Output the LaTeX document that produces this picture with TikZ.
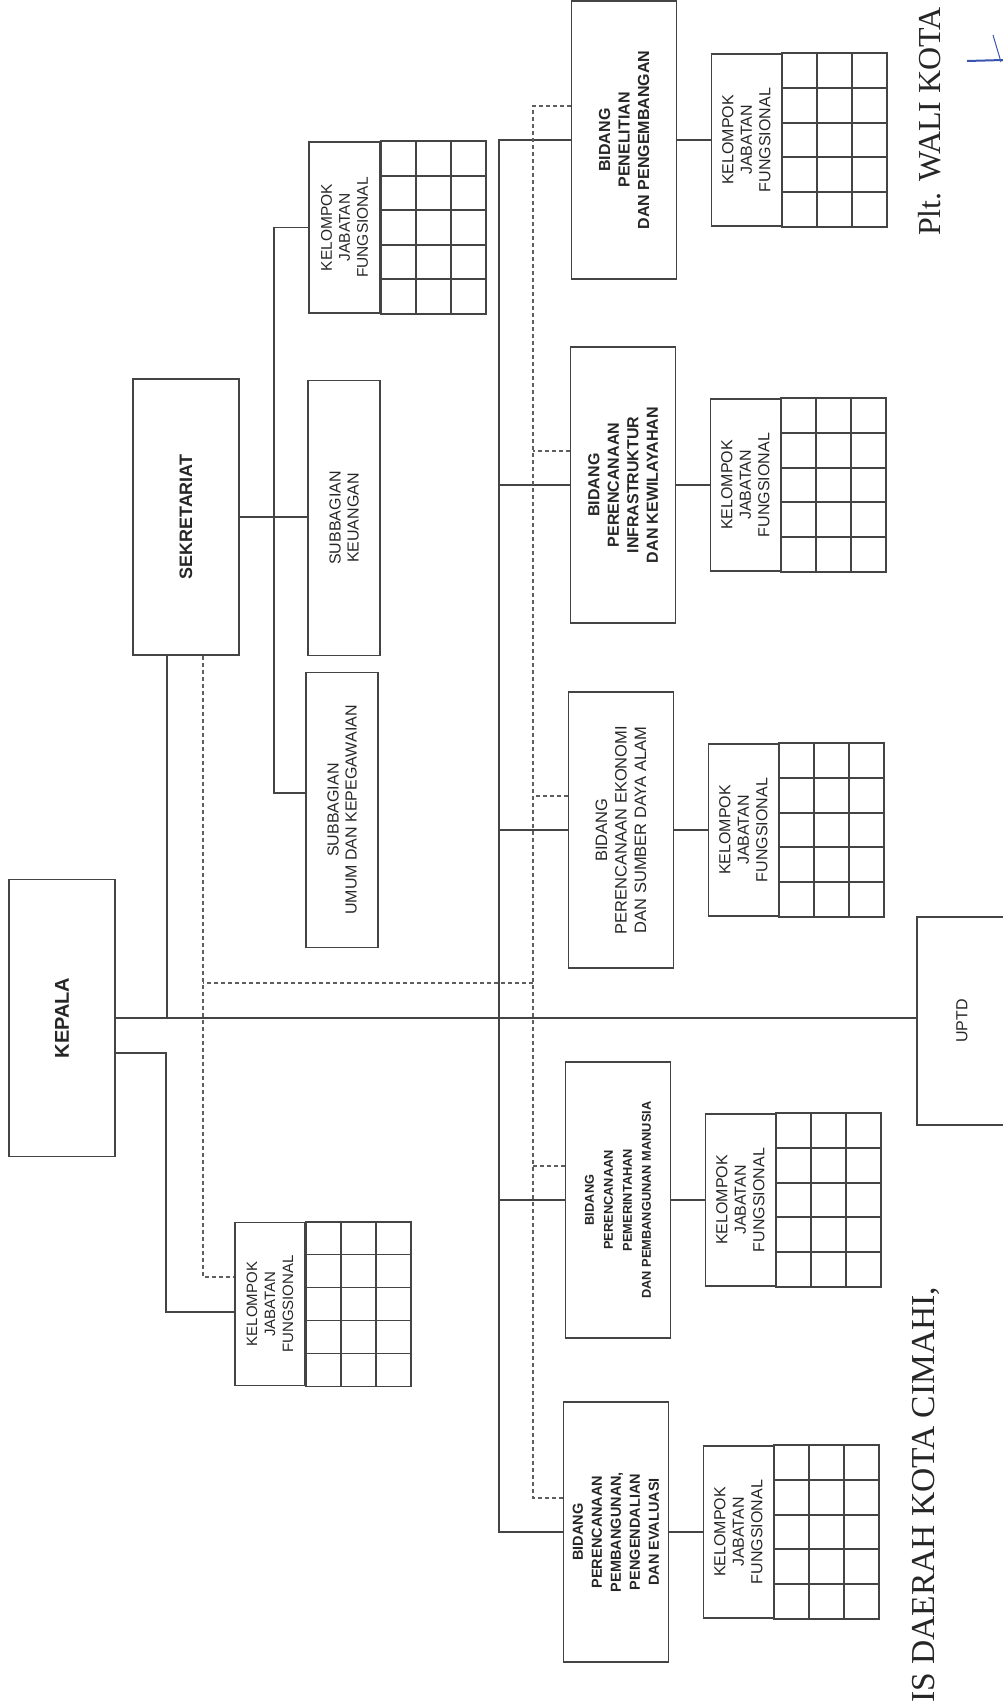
\documentclass[tikz,border=0pt]{standalone}
\usepackage{fontspec}
\setmainfont{Liberation Sans}
\newfontfamily\sigfont{Liberation Serif}
\usetikzlibrary{calc}

\definecolor{ink}{HTML}{444444}
\definecolor{dashgray}{HTML}{5E5E5E}
\definecolor{pen}{HTML}{3A55B0}

\newcommand{\fs}[2]{\fontsize{#1}{#2}\selectfont}

\tikzset{
  unit/.style={draw=ink, line width=1.8pt, rectangle, rotate=90, inner sep=0pt, align=center, text=black!85},
  conn/.style={draw=ink, line width=1.4pt},
  dashl/.style={draw=dashgray, line width=1.4pt, dash pattern=on 4pt off 3pt},
  cell/.style={draw=ink, line width=1.8pt},
}

% grid of the kelompok jabatan fungsional, right of its text part
\newcommand{\jfgrid}[1]{%
  \draw[cell] (#1.south east) rectangle ($(#1.south west)+(105,0)$);
  \foreach \i in {1,2}
    \draw[cell] ($(#1.south east)+(\i*35,0)$) -- ($(#1.south west)+(\i*35,0)$);
  \foreach \j in {1,...,4}
    \draw[cell] ($(#1.south east)!\j/5!(#1.south west)$) -- ++(105,0);
}

\begin{document}
\begin{tikzpicture}[x=1pt, y=-1pt]
  \useasboundingbox (0,0) rectangle (1003,1708);
  \clip (0,0) rectangle (1003,1708);

  % Pimpinan
  \node[unit, minimum width=277pt, minimum height=106pt, font=\bfseries\fs{20}{24}] (kepala) at (62,1018) {KEPALA};
  \node[unit, minimum width=208pt, minimum height=90pt, font=\fs{16}{19}] (uptd) at (962,1021) {UPTD};
  \node[unit, minimum width=163pt, minimum height=70pt, font=\fs{15}{18}] (kfKep) at (270,1304) {KELOMPOK\\JABATAN\\FUNGSIONAL};
  \jfgrid{kfKep}

  % Sekretariat
  \node[unit, minimum width=276pt, minimum height=106pt, font=\bfseries\fs{18}{22}] (sek) at (186,517) {SEKRETARIAT};
  \node[unit, minimum width=275pt, minimum height=72pt, font=\fs{16}{18}] (subK) at (344,518) {SUBBAGIAN\\KEUANGAN};
  \node[unit, minimum width=275pt, minimum height=72pt, font=\fs{16}{18}] (subU) at (342,810) {SUBBAGIAN\\UMUM DAN KEPEGAWAIAN};
  \node[unit, minimum width=171pt, minimum height=71pt, font=\fs{15.5}{18}] (kfSek) at (344.5,227.5) {KELOMPOK\\JABATAN\\FUNGSIONAL};
  \jfgrid{kfSek}

  % Bidang
  \node[unit, minimum width=278pt, minimum height=105pt, font=\bfseries\fs{16}{19.5}] (bidA) at (624,140) {BIDANG\\PENELITIAN\\DAN PENGEMBANGAN};
  \node[unit, minimum width=276pt, minimum height=105pt, font=\bfseries\fs{16}{19.5}] (bidB) at (623,485) {BIDANG\\PERENCANAAN\\INFRASTRUKTUR\\DAN KEWILAYAHAN};
  \node[unit, minimum width=276pt, minimum height=105pt, font=\fs{16.5}{19.5}] (bidC) at (621,830) {BIDANG\\PERENCANAAN EKONOMI\\DAN SUMBER DAYA ALAM};
  \node[unit, minimum width=276pt, minimum height=105pt, font=\bfseries\fs{12.8}{19}] (bidD) at (618,1200) {BIDANG\\PERENCANAAN\\PEMERINTAHAN\\DAN PEMBANGUNAN MANUSIA};
  \node[unit, minimum width=260pt, minimum height=105pt, font=\bfseries\fs{14.5}{19}] (bidE) at (616,1532) {BIDANG\\PERENCANAAN\\PEMBANGUNAN,\\PENGENDALIAN\\DAN EVALUASI};

  \foreach \b/\k in {bidA/kfA, bidB/kfB, bidC/kfC, bidD/kfD, bidE/kfE} {
    \node[unit, minimum width=172pt, minimum height=70pt, font=\fs{16}{18.5}] (\k) at ($(\b.south)+(69,0)$) {KELOMPOK\\JABATAN\\FUNGSIONAL};
    \jfgrid{\k}
    \draw[conn] (\b.south) -- (\k.north);
  }

  % Garis komando
  \coordinate (bus) at (499,1018);
  \coordinate (sbus) at (274,518);
  \coordinate (sekl) at ([xshift=-19pt]sek.west);
  \draw[conn] (kepala.south) -- (kepala.south -| uptd.north);
  \draw[conn] ([yshift=-35pt]kepala.south) -- ++(50,0) |- ([yshift=-8pt]kfKep.north);
  \draw[conn] (sekl) -- (sekl |- kepala.south);
  \draw[conn] (sek.south) -- (sek.south -| subK.north);
  \draw[conn] (kfSek.north) -| (sbus) |- ([yshift=17pt]subU.north);
  \draw[conn] (bidA.north) -| (bus) |- (bidE.north);
  \foreach \b in {bidB, bidC, bidD}
    \draw[conn] (\b.north) -- (\b.north -| bus);

  % Garis koordinasi
  \coordinate (dbus) at (533,983);
  \coordinate (sekd) at ([xshift=17pt]sek.west);
  \draw[dashl] (sekd) |- ([yshift=27pt]kfKep.north);
  \draw[dashl] (dbus) -- (dbus -| sekd);
  \draw[dashl] ([yshift=34pt]bidA.north) -| (dbus) |- ([yshift=34pt]bidE.north);
  \foreach \b in {bidB, bidC, bidD} {
    \coordinate (d\b) at ([yshift=34pt]\b.north);
    \draw[dashl] (d\b) -- (d\b -| dbus);
  }

  % Pengesahan
  \node[rotate=90, anchor=base west, inner sep=0pt, font=\sigfont\fs{32}{38}, text=black!85] (wali) at (940,236) {Plt. WALI KOTA};
  \node[rotate=90, anchor=base west, inner sep=0pt, font=\sigfont\fs{33.5}{38}, text=black!85] (sekda) at (934,1703) {IS DAERAH KOTA CIMAHI,};
  \draw[pen, line width=2pt] (967,61) -- (1003,60);
  \draw[pen, line width=1pt] (993,35) -- (1001,62);
\end{tikzpicture}
\end{document}
